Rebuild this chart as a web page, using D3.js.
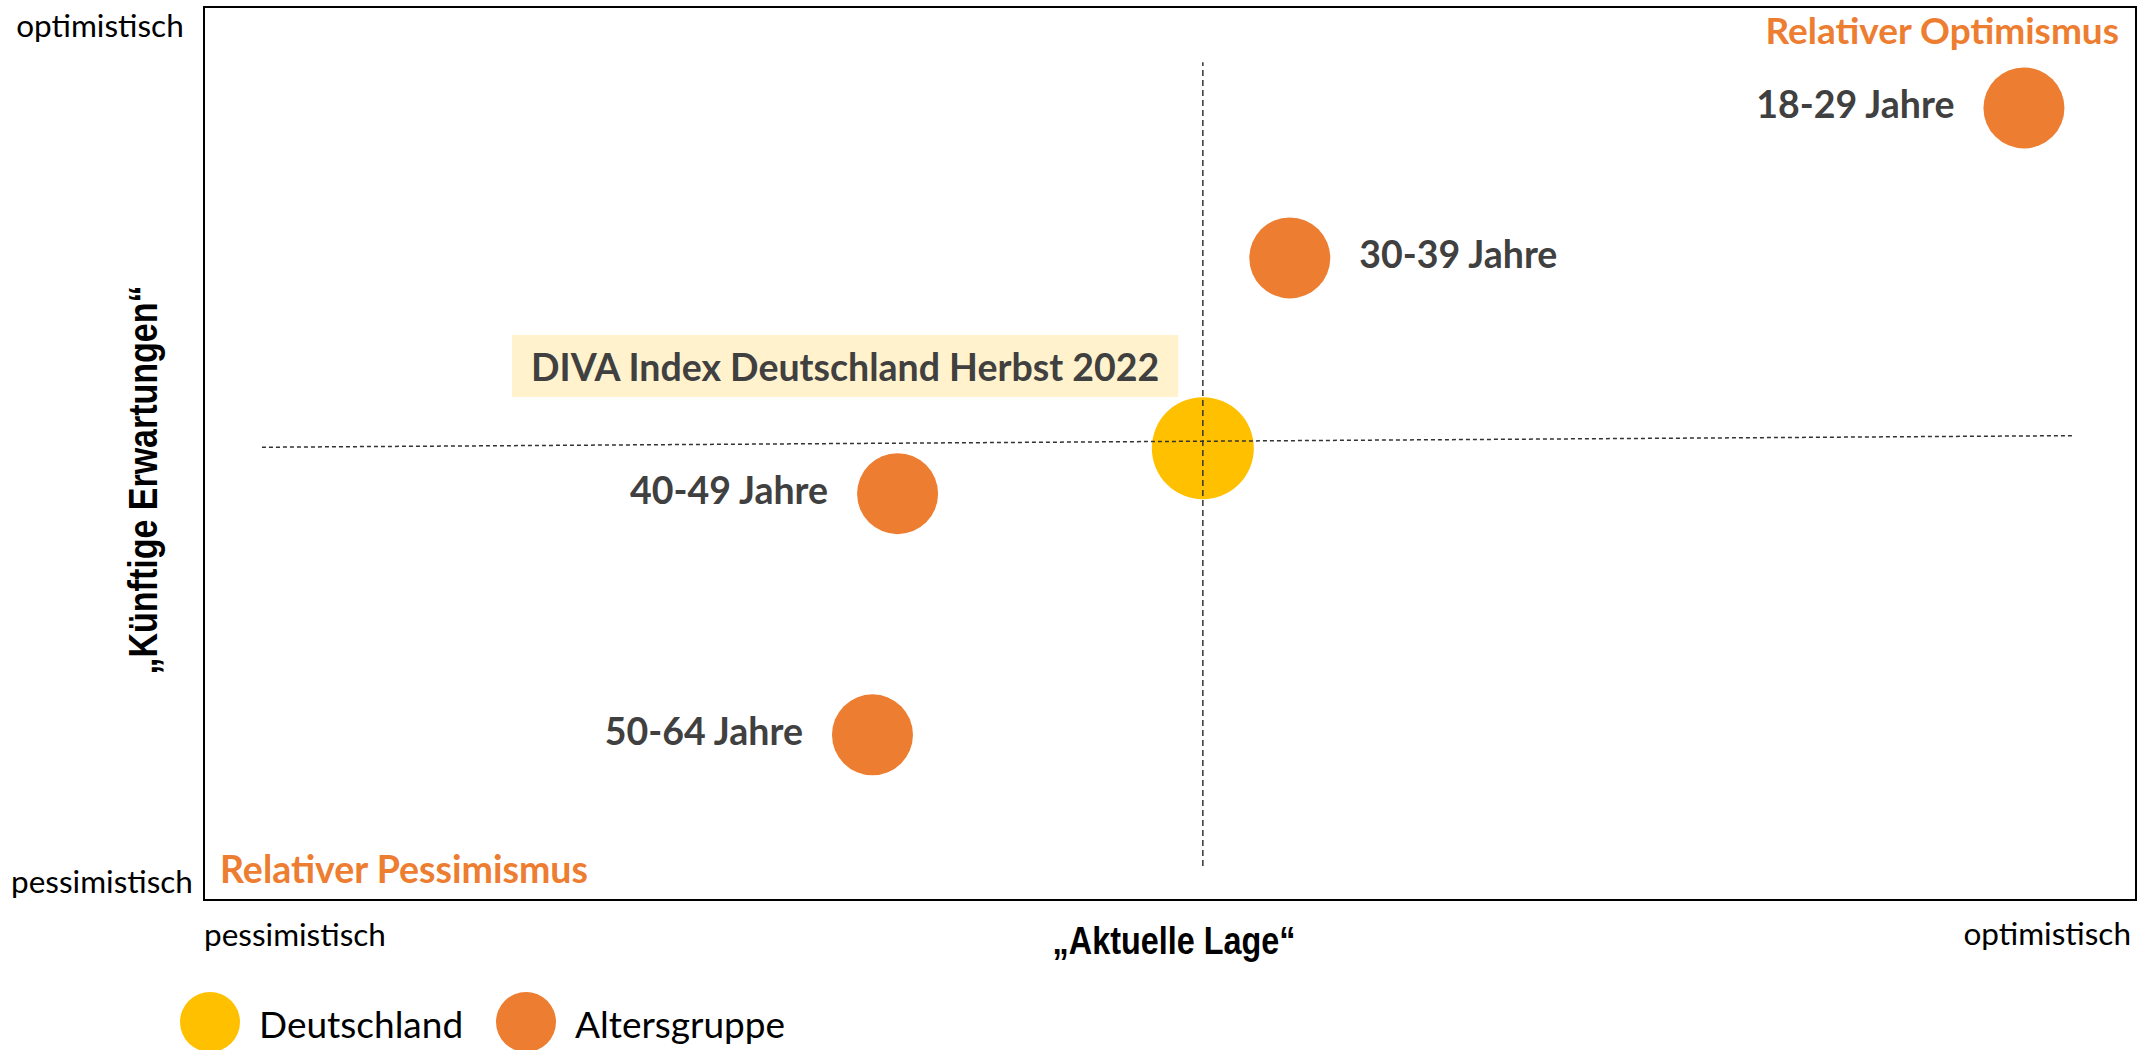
<!DOCTYPE html>
<html>
<head>
<meta charset="utf-8">
<script src="https://cdn.jsdelivr.net/npm/d3@7"></script>
<style>
  body { margin: 0; background: #fff; }
  svg text { font-family: Lato, 'Open Sans', sans-serif; }
</style>
</head>
<body>
<script>
   // data (index units, 0..100 on both axes)
   let groups = ['Deutschland', '18-29 Jahre', '30-39 Jahre', '40-49 Jahre', '50-64 Jahre'];
   let kinds = ['Deutschland', 'Altersgruppe', 'Altersgruppe', 'Altersgruppe', 'Altersgruppe'];
   let lage = [51.7, 94.2, 56.2, 35.9, 34.6];          // "Aktuelle Lage"
   let erwartung = [50.6, 88.7, 71.9, 45.5, 18.5];     // "Künftige Erwartungen"
   let labelSide = ['none', 'left', 'right', 'left', 'left'];
   // dashed reference lines
   let vLineY = [3.8, 93.8];
   let hLineX = [3.0, 96.8];
   let hLineY = [50.7, 52.0];
   let legendItems = ['Deutschland', 'Altersgruppe'];
   let axisEnds = ['pessimistisch', 'optimistisch'];

   // canvas
   let width = 2144;
   let height = 1050;
   let plot = {left: 204, top: 7, right: 2136, bottom: 900};
   let colors = {Deutschland: '#FFC000', Altersgruppe: '#ED7D31'};
   let radius = {Deutschland: 51, Altersgruppe: 40.5};
   let narrow = "'Liberation Sans Narrow', 'Liberation Sans', Arial, sans-serif";

   let svg = d3.select('body').append('svg')
      .attr('width', width)
      .attr('height', height);

   let xScale = d3.scaleLinear().domain([0, 100]).range([plot.left, plot.right]);
   let yScale = d3.scaleLinear().domain([0, 100]).range([plot.bottom, plot.top]);
   let color = d3.scaleOrdinal().domain(legendItems).range([colors.Deutschland, colors.Altersgruppe]);

   let dataset = groups.map((g, i) => ({name: g, kind: kinds[i], x: lage[i], y: erwartung[i], side: labelSide[i]}));

   // frame
   svg.append('rect')
      .attr('x', plot.left)
      .attr('y', plot.top)
      .attr('width', plot.right - plot.left)
      .attr('height', plot.bottom - plot.top)
      .attr('fill', 'none')
      .attr('stroke', '#000')
      .attr('stroke-width', 2);

   // label box "DIVA Index"
   let de = dataset[0];
   let boxG = svg.append('g');
   let boxText = boxG.append('text')
      .attr('x', 531)
      .attr('y', 381)
      .attr('fill', '#404040')
      .style('font-weight', 700)
      .style('font-size', '37.5px')
      .text('DIVA Index Deutschland Herbst 2022');
   let bb = boxText.node().getBBox();
   boxG.insert('rect', 'text')
      .attr('x', bb.x - 19)
      .attr('y', 335)
      .attr('width', bb.width + 38)
      .attr('height', 62)
      .attr('fill', '#FFF2CC');

   // bubbles
   svg.selectAll('circle.bubble')
      .data(dataset)
      .enter()
      .append('circle')
      .attr('class', 'bubble')
      .attr('cx', (d) => xScale(d.x))
      .attr('cy', (d) => yScale(d.y))
      .attr('r', (d) => radius[d.kind])
      .attr('fill', (d) => color(d.kind));

   // dashed reference lines
   svg.append('line')
      .attr('x1', xScale(de.x)).attr('x2', xScale(de.x))
      .attr('y1', yScale(vLineY[0])).attr('y2', yScale(vLineY[1]))
      .attr('stroke', '#333').attr('stroke-width', 1.5)
      .attr('stroke-dasharray', '6,4');
   svg.append('line')
      .attr('x1', xScale(hLineX[0])).attr('x2', xScale(hLineX[1]))
      .attr('y1', yScale(hLineY[0])).attr('y2', yScale(hLineY[1]))
      .attr('stroke', '#333').attr('stroke-width', 1.5)
      .attr('stroke-dasharray', '4,3');

   // bubble labels
   svg.selectAll('text.label')
      .data(dataset.filter((d) => d.side !== 'none'))
      .enter()
      .append('text')
      .attr('class', 'label')
      .attr('x', (d) => xScale(d.x) + (d.side === 'left' ? -1 : 1) * (radius[d.kind] + 29))
      .attr('y', (d) => yScale(d.y) + 10)
      .attr('text-anchor', (d) => d.side === 'left' ? 'end' : 'start')
      .attr('fill', '#404040')
      .style('font-weight', 700)
      .style('font-size', '37.5px')
      .text((d) => d.name);

   // corner labels
   svg.append('text')
      .attr('x', 2119).attr('y', 44)
      .attr('text-anchor', 'end')
      .attr('fill', '#ED7D31')
      .style('font-weight', 700).style('font-size', '37px')
      .text('Relativer Optimismus');
   svg.append('text')
      .attr('x', 220).attr('y', 883)
      .attr('fill', '#ED7D31')
      .style('font-weight', 700).style('font-size', '37.5px')
      .text('Relativer Pessimismus');

   // axis end labels
   svg.append('text').attr('x', 100).attr('y', 37).attr('text-anchor', 'middle')
      .style('font-size', '31.5px').attr('fill', '#000').text(axisEnds[1]);
   svg.append('text').attr('x', 102).attr('y', 893).attr('text-anchor', 'middle')
      .style('font-size', '31.5px').attr('fill', '#000').text(axisEnds[0]);
   svg.append('text').attr('x', 204).attr('y', 946)
      .style('font-size', '31.5px').attr('fill', '#000').text(axisEnds[0]);
   svg.append('text').attr('x', 2131).attr('y', 945).attr('text-anchor', 'end')
      .style('font-size', '31.5px').attr('fill', '#000').text(axisEnds[1]);

   // axis titles (narrow bold look)
   svg.append('text')
      .attr('transform', 'translate(1174, 954) scale(0.83, 1)')
      .attr('text-anchor', 'middle')
      .style('font-family', narrow)
      .style('font-weight', 700).style('font-size', '39px')
      .text('„Aktuelle Lage“');
   svg.append('text')
      .attr('transform', 'translate(157, 480) rotate(-90) scale(0.85, 1)')
      .attr('text-anchor', 'middle')
      .style('font-family', narrow)
      .style('font-weight', 700).style('font-size', '40px')
      .text('„Künftige Erwartungen“');

   // legend
   let legendX = [210, 526];
   let legend = svg.selectAll('g.legend')
      .data(legendItems)
      .enter()
      .append('g')
      .attr('class', 'legend')
      .attr('transform', (d, i) => 'translate(' + legendX[i] + ', 1022)');
   legend.append('circle')
      .attr('r', 30)
      .attr('fill', (d) => color(d));
   legend.append('text')
      .attr('x', 49)
      .attr('y', 16)
      .style('font-size', '37px')
      .attr('fill', '#000')
      .text((d) => d);
</script>
</body>
</html>
